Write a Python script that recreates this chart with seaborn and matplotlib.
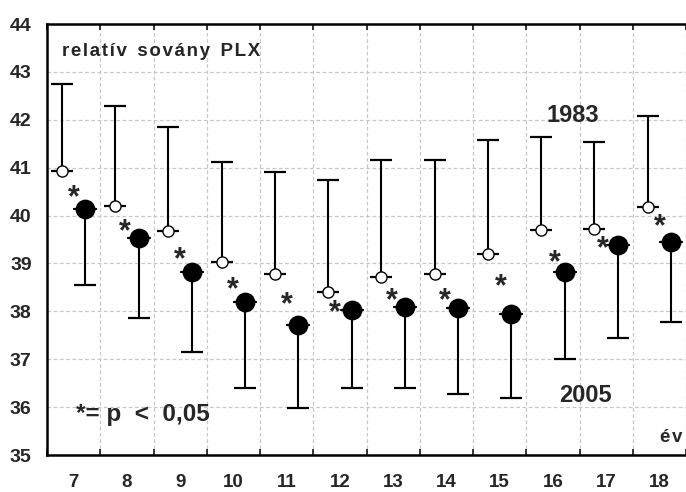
import numpy as np
import pandas as pd
import matplotlib
matplotlib.use("Agg")
import matplotlib.pyplot as plt
import seaborn as sns

# ---- data ----
ages = ["7", "8", "9", "10", "11", "12", "13", "14", "15", "16", "17", "18"]
mean_1983 = [40.92, 40.20, 39.68, 39.03, 38.79, 38.41, 38.71, 38.79, 39.20, 39.70, 39.71, 40.17]
upper_1983 = [42.74, 42.29, 41.84, 41.11, 40.91, 40.74, 41.16, 41.16, 41.58, 41.63, 41.54, 42.08]
mean_2005 = [40.13, 39.54, 38.82, 38.19, 37.72, 38.03, 38.10, 38.06, 37.95, 38.82, 39.39, 39.45]
lower_2005 = [38.54, 37.87, 37.16, 36.40, 35.98, 36.40, 36.40, 36.28, 36.20, 37.00, 37.44, 37.78]
star_y = [40.49, 39.77, 39.18, 38.57, 38.24, 38.07, 38.34, 38.34, 38.62, 39.13, 39.41, 39.87]
star_dx = [0.0, -0.04, 0.0, -0.01, 0.0, -0.09, -0.02, -0.03, 0.03, 0.03, -0.06, 0.0]

sns.set_style("white")
plt.rcParams['font.family'] = ['Liberation Sans', 'DejaVu Sans']
plt.rcParams['font.weight'] = 'bold'

fig = plt.figure(figsize=(6.86, 4.92), dpi=100)
ax = fig.add_axes([47/686, 1-455/492, 1-47/686, (455-24)/492])

idx = np.arange(len(ages))
off = 0.22
df = pd.DataFrame({
    "x": np.concatenate([idx - off, idx + off]),
    "y": np.concatenate([mean_1983, mean_2005]),
    "year": ["1983"] * len(ages) + ["2005"] * len(ages),
})

# error bars (one-sided)
m83 = np.array(mean_1983); u83 = np.array(upper_1983)
m05 = np.array(mean_2005); l05 = np.array(lower_2005)
ax.errorbar(idx - off, m83, yerr=[np.zeros_like(m83), u83 - m83], fmt='none',
            ecolor='black', elinewidth=1.5, capsize=7.8, capthick=1.6, zorder=3)
ax.errorbar(idx + off, m05, yerr=[m05 - l05, np.zeros_like(m05)], fmt='none',
            ecolor='black', elinewidth=1.5, capsize=7.8, capthick=1.6, zorder=3)

# horizontal dash through markers
ax.scatter(idx - off, m83, marker='_', s=15.5**2, color='black', linewidths=1.3, zorder=4)
ax.scatter(idx + off, m05, marker='_', s=17**2, color='black', linewidths=1.3, zorder=4)

sub83 = df[df.year == "1983"]
sub05 = df[df.year == "2005"]
sns.scatterplot(data=sub83, x="x", y="y", ax=ax, marker='o', s=64, color='white',
                edgecolor='black', linewidth=1.0, zorder=5, legend=False)
sns.scatterplot(data=sub05, x="x", y="y", ax=ax, marker='o', s=175, color='black',
                edgecolor='black', linewidth=1.0, zorder=5, legend=False)

for i in range(len(ages)):
    ax.text(idx[i] + star_dx[i], star_y[i] - 0.12, "*", ha='center', va='center',
            fontsize=22, fontweight='bold', zorder=6)

ax.set_xlim(-0.5, -0.5 + (686 - 47) / 53.75)
ax.set_ylim(35, 44)
ax.set_yticks(range(35, 45))
ax.set_yticklabels([str(v) for v in range(35, 45)])
ax.set_xticks(idx)
ax.set_xticklabels(ages)
ax.set_xticks(np.arange(-0.5, 12, 1.0), minor=True)
ax.tick_params(axis='x', which='major', length=0, pad=14, labelsize=13.5)
ax.tick_params(axis='x', which='minor', length=4, width=1.3, direction='in', top=True, bottom=True)
ax.tick_params(axis='y', which='major', length=4, width=1.3, direction='in', pad=11, labelsize=14)
for lab in ax.get_xticklabels() + ax.get_yticklabels():
    lab.set_fontweight('bold')

ax.grid(False)
ax.xaxis.grid(True, which='minor', linestyle=(0, (3, 2)), color='#c8c8c8', linewidth=0.9)
ax.yaxis.grid(True, which='major', linestyle=(0, (3, 2)), color='#c8c8c8', linewidth=0.9)
ax.set_axisbelow(True)
ax.set_xlabel("")
ax.set_ylabel("")

for s in ['left', 'top', 'bottom']:
    ax.spines[s].set_visible(True)
    ax.spines[s].set_color('black')
    ax.spines[s].set_linewidth(1.8)
ax.spines['right'].set_visible(False)

hs = "\u200a"
title = "  ".join(hs.join(w) for w in ["relatív", "sovány", "PLX"])
fig.text(62/686, 1-51/492, title, ha='left', va='center', fontsize=13.5, fontweight='bold')

fig.text(573/686, 1-115/492, "1983", ha='center', va='center', fontsize=17, fontweight='bold')
fig.text(585/686, 1-395/492, "2005", ha='center', va='center', fontsize=17, fontweight='bold')
fig.text(76/686, 1-415/492, "*= p  <  0,05", ha='left', va='center', fontsize=17.5, fontweight='bold')
fig.text(682/686, 1-437/492, hs.join("év"), ha='right', va='center', fontsize=13.5, fontweight='bold')

fig.savefig("out.png", dpi=100)
